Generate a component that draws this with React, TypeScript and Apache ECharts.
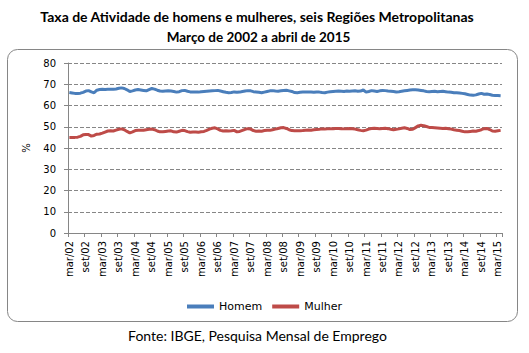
import React, { useEffect, useRef } from "react";
import * as echarts from "echarts";

const monthNames = ["jan", "fev", "mar", "abr", "mai", "jun", "jul", "ago", "set", "out", "nov", "dez"];
const startYear = 2002;
const startMonth = 2; // março
const monthCount = 158; // mar/02 .. abr/15

const homem2002 = [66.1, 65.9, 65.7, 65.6, 65.8, 66.2, 66.8, 67.0, 66.4, 66.0];
const homem2003 = [67.2, 67.5, 67.6, 67.5, 67.6, 67.7, 67.6, 67.8, 68.1, 68.3, 68.0, 67.4];
const homem2004 = [66.6, 66.9, 67.3, 67.5, 67.3, 67.1, 66.9, 67.5, 68.0, 67.7, 67.2, 66.8];
const homem2005 = [66.7, 66.8, 66.9, 66.8, 66.6, 66.3, 66.5, 67.0, 67.1, 66.7, 66.4, 66.3];
const homem2006 = [66.4, 66.3, 66.5, 66.6, 66.7, 66.8, 66.9, 67.0, 67.1, 66.8, 66.5, 66.2];
const homem2007 = [66.0, 66.1, 66.4, 66.2, 66.3, 66.6, 66.8, 67.0, 66.9, 66.5, 66.4, 66.2];
const homem2008 = [66.0, 66.3, 66.6, 66.9, 67.0, 66.8, 66.7, 66.9, 67.1, 67.2, 66.9, 66.6];
const homem2009 = [66.1, 66.0, 66.2, 66.3, 66.3, 66.4, 66.3, 66.2, 66.4, 66.3, 66.1, 66.0];
const homem2010 = [66.3, 66.5, 66.6, 66.7, 66.8, 66.7, 66.6, 66.8, 66.7, 66.8, 66.9, 66.7];
const homem2011 = [66.8, 67.3, 66.3, 66.6, 67.0, 66.8, 66.6, 66.9, 67.1, 67.0, 66.8, 66.7];
const homem2012 = [66.6, 66.4, 66.5, 66.7, 66.9, 67.1, 67.3, 67.4, 67.4, 67.3, 67.1, 66.9];
const homem2013 = [66.6, 66.5, 66.6, 66.7, 66.5, 66.6, 66.7, 66.5, 66.3, 66.2, 66.0, 66.0];
const homem2014 = [65.9, 65.7, 65.5, 65.2, 64.9, 64.8, 65.0, 65.4, 65.7, 65.3, 65.4, 65.2];
const homem2015 = [64.8, 64.7, 64.7, 64.6];

const mulher2002 = [45.0, 45.0, 45.0, 45.1, 45.5, 46.2, 46.4, 46.3, 45.6, 45.9];
const mulher2003 = [46.5, 46.6, 47.0, 47.5, 48.0, 48.1, 48.0, 48.4, 48.8, 49.0, 48.6, 47.8];
const mulher2004 = [47.1, 47.6, 48.2, 48.4, 48.3, 48.4, 48.6, 48.8, 48.9, 48.6, 48.0, 47.6];
const mulher2005 = [47.6, 47.8, 48.0, 48.1, 47.6, 47.5, 47.9, 48.3, 48.2, 47.7, 47.4, 47.5];
const mulher2006 = [47.5, 47.4, 47.6, 47.8, 48.3, 48.9, 49.3, 49.5, 49.0, 48.3, 48.0, 48.1];
const mulher2007 = [48.0, 48.1, 48.3, 47.6, 47.8, 48.3, 48.8, 49.1, 48.9, 48.2, 47.9, 48.0];
const mulher2008 = [47.9, 48.2, 48.4, 48.3, 48.6, 48.9, 49.2, 49.5, 49.6, 49.2, 48.6, 48.2];
const mulher2009 = [48.1, 48.1, 48.1, 48.2, 48.4, 48.5, 48.4, 48.6, 48.7, 48.8, 49.0, 48.9];
const mulher2010 = [49.0, 49.1, 49.1, 49.2, 49.2, 49.1, 49.0, 49.1, 49.2, 49.1, 48.9, 48.6];
const mulher2011 = [48.3, 48.1, 48.4, 48.9, 49.2, 49.3, 49.2, 49.1, 49.2, 49.3, 49.1, 48.8];
const mulher2012 = [48.6, 48.8, 49.0, 49.3, 49.5, 49.2, 48.7, 48.8, 49.6, 50.4, 50.7, 50.5];
const mulher2013 = [50.1, 49.7, 49.6, 49.5, 49.4, 49.3, 49.2, 49.3, 49.1, 48.9, 48.6, 48.4];
const mulher2014 = [48.2, 47.9, 47.6, 47.6, 47.8, 48.0, 47.9, 48.2, 48.6, 49.1, 49.2, 48.7];
const mulher2015 = [48.0, 47.9, 48.1, 48.3];

const homem = [
  ...homem2002, ...homem2003, ...homem2004, ...homem2005, ...homem2006, ...homem2007, ...homem2008,
  ...homem2009, ...homem2010, ...homem2011, ...homem2012, ...homem2013, ...homem2014, ...homem2015,
];
const mulher = [
  ...mulher2002, ...mulher2003, ...mulher2004, ...mulher2005, ...mulher2006, ...mulher2007, ...mulher2008,
  ...mulher2009, ...mulher2010, ...mulher2011, ...mulher2012, ...mulher2013, ...mulher2014, ...mulher2015,
];

const categories: string[] = [];
for (let i = 0; i < monthCount; i++) {
  const m = (startMonth + i) % 12;
  const y = startYear + Math.floor((startMonth + i) / 12);
  categories.push(monthNames[m] + "/" + String(y % 100).padStart(2, "0"));
}

const titleLine1 = "Taxa de Atividade de homens e mulheres, seis Regiões Metropolitanas";
const titleLine2 = "Março de 2002 a abril de 2015";
const sourceText = "Fonte: IBGE, Pesquisa Mensal de Emprego";

export default function App() {
  const ref = useRef<HTMLDivElement>(null);
  useEffect(() => {
    if (!ref.current) return;
    const chart = echarts.init(ref.current, undefined, { renderer: "svg" });
    const axisFont = "DejaVu Sans, Verdana, sans-serif";
    const titleFont = "Lato, 'Open Sans', sans-serif";
    chart.setOption({
      animation: false,
      backgroundColor: "#ffffff",
      graphic: [
        {
          type: "rect",
          shape: { x: 7.5, y: 49.5, width: 510, height: 272, r: 10 },
          style: { fill: "none", stroke: "#868686", lineWidth: 1 },
          silent: true,
          z: -10,
        },
        {
          type: "text",
          x: 257,
          y: 16,
          style: {
            text: titleLine1,
            fontFamily: titleFont,
            fontWeight: "bold",
            fontSize: 14,
            fill: "#000",
            textAlign: "center",
            textVerticalAlign: "middle",
          },
        },
        {
          type: "text",
          x: 258.5,
          y: 36.5,
          style: {
            text: titleLine2,
            fontFamily: titleFont,
            fontWeight: "bold",
            fontSize: 13.5,
            fill: "#000",
            textAlign: "center",
            textVerticalAlign: "middle",
          },
        },
        {
          type: "text",
          x: 257.5,
          y: 335,
          style: {
            text: sourceText,
            fontFamily: titleFont,
            fontSize: 14,
            fill: "#000",
            textAlign: "center",
            textVerticalAlign: "middle",
          },
        },
      ],
      legend: {
        data: ["Homem", "Mulher"],
        left: 182,
        top: 296,
        icon: "rect",
        itemWidth: 27,
        itemHeight: 4,
        itemGap: 10,
        textStyle: { fontFamily: axisFont, fontSize: 11, color: "#000" },
      },
      grid: { left: 68, right: 27, top: 63, bottom: 120, containLabel: false },
      xAxis: {
        type: "category",
        data: categories,
        boundaryGap: true,
        axisLine: { show: true, lineStyle: { color: "#868686", width: 1 } },
        axisTick: { show: true, interval: 5, length: 4, lineStyle: { color: "#868686" } },
        axisLabel: {
          interval: 5,
          rotate: 90,
          margin: 8,
          fontFamily: axisFont,
          fontSize: 10,
          color: "#000",
        },
        splitLine: { show: false },
      },
      yAxis: {
        type: "value",
        min: 0,
        max: 80,
        interval: 10,
        name: "%",
        nameLocation: "middle",
        nameGap: 37,
        nameRotate: 90,
        nameTextStyle: { fontFamily: axisFont, fontSize: 10, color: "#000" },
        axisLine: { show: true, lineStyle: { color: "#868686", width: 1 } },
        axisTick: { show: true, length: 4, lineStyle: { color: "#868686" } },
        axisLabel: { margin: 12, fontFamily: axisFont, fontSize: 10, color: "#000" },
        splitLine: { show: true, lineStyle: { color: "#868686", type: [4, 2], width: 1 } },
      },
      series: [
        {
          name: "Homem",
          type: "line",
          data: homem,
          showSymbol: false,
          symbol: "none",
          lineStyle: { color: "#4A7EBB", width: 3 },
          itemStyle: { color: "#4A7EBB" },
        },
        {
          name: "Mulher",
          type: "line",
          data: mulher,
          showSymbol: false,
          symbol: "none",
          lineStyle: { color: "#BE4B48", width: 3 },
          itemStyle: { color: "#BE4B48" },
        },
      ],
    });
    return () => chart.dispose();
  }, []);
  return (
    <div
      ref={ref}
      style={{ position: "fixed", left: 0, top: 0, width: 529, height: 353 }}
    />
  );
}
